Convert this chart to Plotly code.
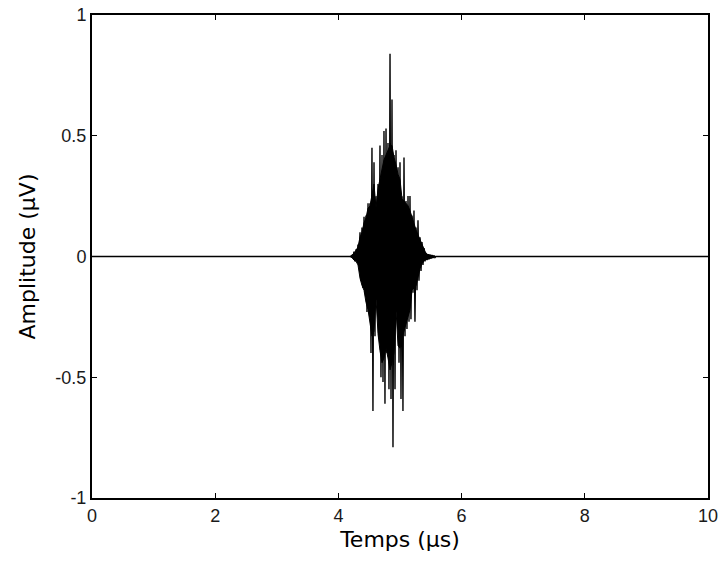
import plotly.graph_objects as go

# Burst columns (time in µs, upper and lower extremes in µV)
t_us = [4.188, 4.221, 4.253, 4.286, 4.318, 4.351, 4.383, 4.416, 4.448, 4.481,
        4.513, 4.545, 4.578, 4.610, 4.643, 4.675, 4.708, 4.740, 4.773, 4.805,
        4.838, 4.870, 4.903, 4.935, 4.968, 5.000, 5.032, 5.065, 5.097, 5.130,
        5.162, 5.195, 5.227, 5.260, 5.292, 5.325, 5.357, 5.390, 5.422, 5.455,
        5.487, 5.519, 5.552, 5.584]
amp_top = [0.0, 0.005, 0.02, 0.03, 0.05, 0.10, 0.12, 0.165, 0.17, 0.22,
           0.22, 0.45, 0.39, 0.25, 0.30, 0.46, 0.42, 0.52, 0.53, 0.47,
           0.84, 0.65, 0.42, 0.44, 0.37, 0.39, 0.25, 0.41, 0.23, 0.25,
           0.25, 0.17, 0.19, 0.12, 0.15, 0.08, 0.06, 0.035, 0.015, 0.01,
           0.008, 0.006, 0.004, 0.0]
amp_bot = [0.0, -0.005, -0.02, -0.02, -0.04, -0.10, -0.13, -0.15, -0.23, -0.235,
           -0.40, -0.64, -0.33, -0.18, -0.34, -0.50, -0.52, -0.61, -0.40, -0.55,
           -0.59, -0.79, -0.55, -0.23, -0.44, -0.59, -0.64, -0.33, -0.30, -0.27,
           -0.26, -0.15, -0.27, -0.14, -0.10, -0.06, -0.035, -0.02, -0.015, -0.012,
           -0.008, -0.006, -0.004, 0.0]

# Solid body of the burst
core_top = [0.0, 0.005, 0.015, 0.025, 0.04, 0.08, 0.10, 0.14, 0.16, 0.20,
            0.21, 0.26, 0.30, 0.20, 0.28, 0.32, 0.36, 0.40, 0.42, 0.44,
            0.46, 0.46, 0.41, 0.38, 0.34, 0.32, 0.24, 0.23, 0.22, 0.21,
            0.19, 0.16, 0.14, 0.11, 0.09, 0.07, 0.05, 0.03, 0.012, 0.008,
            0.006, 0.004, 0.003, 0.0]
core_bot = [0.0, -0.005, -0.015, -0.02, -0.035, -0.09, -0.12, -0.14, -0.19, -0.22,
            -0.28, -0.33, -0.31, -0.17, -0.32, -0.39, -0.44, -0.42, -0.38, -0.42,
            -0.47, -0.44, -0.40, -0.22, -0.37, -0.38, -0.34, -0.31, -0.27, -0.25,
            -0.22, -0.14, -0.13, -0.12, -0.09, -0.05, -0.03, -0.018, -0.013, -0.01,
            -0.007, -0.005, -0.003, 0.0]

t_start, t_end = 0.0, 10.0

x_ticks = [0, 2, 4, 6, 8, 10]
x_ticktext = ["0", "2", "4", "6", "8", "10"]
y_ticks = [-1, -0.5, 0, 0.5, 1]
y_ticktext = ["-1", "-0.5", "0", "0.5", "1"]

fig = go.Figure()

# solid core polygon
fig.add_trace(go.Scatter(x=t_us + t_us[::-1], y=core_top + core_bot[::-1],
                         mode="lines", fill="toself", fillcolor="black",
                         line=dict(color="black", width=1), showlegend=False,
                         hoverinfo="skip"))

# Oscillating trace: alternate top / bottom at each column
xs = [t_start]
ys = [0.0]
half = 0.016
for t, a, b in zip(t_us, amp_top, amp_bot):
    xs += [t, t + half]
    ys += [a, b]
xs.append(t_end)
ys.append(0.0)

fig.add_trace(go.Scatter(x=xs, y=ys, mode="lines",
                         line=dict(color="black", width=1.4), showlegend=False,
                         hoverinfo="skip"))

tick_font = "Arial, Liberation Sans, sans-serif"
title_font = "DejaVu Sans, Arial, sans-serif"
axis_common = dict(showline=True, linecolor="black", linewidth=2, mirror="ticks",
                   ticks="inside", ticklen=5, tickwidth=1, tickcolor="black",
                   showgrid=False, zeroline=False, automargin=False,
                   ticklabeloverflow="allow",
                   tickfont=dict(family=tick_font, size=18, color="#1a1a1a"))

fig.update_layout(
    width=720, height=566,
    margin=dict(l=92, r=12, t=15, b=68),
    paper_bgcolor="white", plot_bgcolor="white",
    font=dict(family=tick_font, color="black"),
    xaxis=dict(range=[0, 10], tickvals=x_ticks, ticktext=x_ticktext,
               title=dict(text="Temps (μs)", font=dict(family=title_font, size=22), standoff=7),
               **axis_common),
    yaxis=dict(range=[-1, 1], tickvals=y_ticks, ticktext=y_ticktext,
               title=dict(text="Amplitude (μV)", font=dict(family=title_font, size=22), standoff=14),
               **axis_common),
)

fig.write_html("out.html",
               config={"displayModeBar": False},
               post_script="document.body.style.margin='0px';document.body.style.overflow='hidden';")
